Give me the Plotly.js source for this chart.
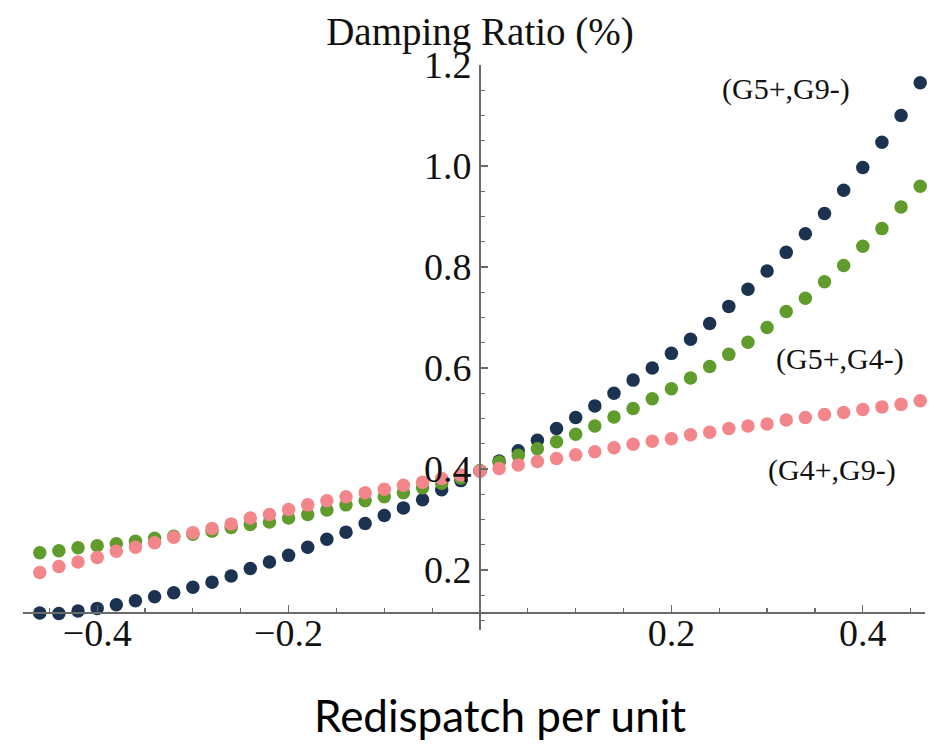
<!DOCTYPE html>
<html>
<head>
<meta charset="utf-8">
<script src="https://cdn.plot.ly/plotly-3.0.1.min.js"></script>
<style>html,body{margin:0;padding:0;background:#fff;}#chart{width:941px;height:750px;}</style>
</head>
<body>
<div id="chart"></div>
<script>
// Redispatch (per unit)
const redispatch = [-0.46,-0.44,-0.42,-0.40,-0.38,-0.36,-0.34,-0.32,-0.30,-0.28,-0.26,-0.24,-0.22,-0.20,-0.18,-0.16,-0.14,-0.12,-0.10,-0.08,-0.06,-0.04,-0.02,0.00,0.02,0.04,0.06,0.08,0.10,0.12,0.14,0.16,0.18,0.20,0.22,0.24,0.26,0.28,0.30,0.32,0.34,0.36,0.38,0.40,0.42,0.44,0.46];

// Damping ratio (%) for each redispatch pair
const g5g9 = [0.115,0.114,0.119,0.124,0.131,0.139,0.147,0.155,0.166,0.176,0.188,0.203,0.216,0.229,0.245,0.261,0.275,0.292,0.308,0.323,0.339,0.359,0.377,0.396,0.416,0.436,0.457,0.480,0.502,0.525,0.550,0.576,0.600,0.629,0.657,0.688,0.722,0.756,0.792,0.829,0.866,0.906,0.952,0.997,1.047,1.100,1.165];
const g5g4 = [0.234,0.238,0.244,0.248,0.252,0.257,0.263,0.267,0.271,0.277,0.284,0.290,0.295,0.303,0.310,0.319,0.329,0.337,0.345,0.353,0.363,0.372,0.382,0.397,0.414,0.427,0.440,0.454,0.469,0.485,0.503,0.520,0.539,0.559,0.580,0.603,0.627,0.651,0.680,0.712,0.738,0.771,0.803,0.841,0.876,0.919,0.960];
const g4g9 = [0.195,0.207,0.216,0.225,0.237,0.245,0.254,0.265,0.274,0.282,0.291,0.303,0.310,0.320,0.329,0.337,0.345,0.353,0.360,0.368,0.374,0.381,0.388,0.396,0.401,0.408,0.415,0.421,0.428,0.434,0.442,0.449,0.455,0.460,0.468,0.473,0.480,0.485,0.489,0.497,0.502,0.508,0.512,0.518,0.523,0.528,0.535];

const seriesNames = ['(G5+,G9-)', '(G5+,G4-)', '(G4+,G9-)'];
const xTickVals = [-0.4, -0.2, 0.2, 0.4];
const xTickText = ['\u22120.4', '\u22120.2', '0.2', '0.4'];
const yTickVals = [0.2, 0.4, 0.6, 0.8, 1.0, 1.2];
const yTickText = ['0.2', '0.4', '0.6', '0.8', '1.0', '1.2'];
const xTitle = 'Redispatch per unit';
const yTitle = 'Damping Ratio (%)';

// label anchor points (data coords)
const labelX = [0.32, 0.376, 0.368];
const labelY = [1.152, 0.617, 0.399];

const colors = ['#1b3350', '#5f9c2b', '#f2868a'];
const ys = [g5g9, g5g4, g4g9];

const xRange = [-0.4775, 0.465];
const yRange = [0.0812, 1.2];

const traces = ys.map((y, i) => ({
  x: redispatch, y: y, type: 'scatter', mode: 'markers', name: seriesNames[i],
  marker: {color: colors[i], size: 13.5, line: {width: 0}},
  cliponaxis: false, hoverinfo: 'x+y'
}));

const serif = 'Liberation Serif, Times New Roman, serif';
const axisCol = '#6a6a6a';

const annotations = seriesNames.map((t, i) => ({
  x: labelX[i], y: labelY[i], xref: 'x', yref: 'y', text: t, showarrow: false,
  font: {family: serif, size: 30, color: '#111'}, xanchor: 'center', yanchor: 'middle'
}));
annotations.push({
  x: 500/941, y: 1 - 715/750, xref: 'paper', yref: 'paper', text: xTitle, showarrow: false,
  font: {family: 'Lato, sans-serif', size: 44, color: '#000'}, xanchor: 'center', yanchor: 'middle'
});

const layout = {
  width: 941, height: 750,
  margin: {l: 0, r: 0, t: 0, b: 0},
  paper_bgcolor: '#fff', plot_bgcolor: '#fff',
  showlegend: false,
  title: {text: yTitle, font: {family: serif, size: 39, color: '#111'},
          x: 480/941, xref: 'container', xanchor: 'center', y: 1 - 31/750, yref: 'container', yanchor: 'middle'},
  xaxis: {
    domain: [23/941, 925/941],
    range: xRange, anchor: 'free',
    position: 1 - 613.3 / 750,
    showgrid: false, zeroline: false, showline: true, linecolor: axisCol, linewidth: 2,
    tickmode: 'array', tickvals: xTickVals, ticktext: xTickText,
    ticks: 'inside', ticklen: 7, tickwidth: 1.3, tickcolor: axisCol,
    ticklabelstandoff: -14,
    minor: {ticks: 'inside', ticklen: 4, tickwidth: 1.2, tickcolor: axisCol, tickmode: 'linear', tick0: 0, dtick: 0.05, showgrid: false},
    tickfont: {family: serif, size: 38, color: '#111'}
  },
  yaxis: {
    domain: [1 - 630/750, 1 - 65/750],
    range: yRange, anchor: 'free',
    position: 480/941,
    showgrid: false, zeroline: false, showline: true, linecolor: axisCol, linewidth: 2,
    tickmode: 'array', tickvals: yTickVals, ticktext: yTickText,
    ticks: 'inside', ticklen: 7, tickwidth: 1.3, tickcolor: axisCol,
    minor: {ticks: 'inside', ticklen: 4, tickwidth: 1.2, tickcolor: axisCol, tickmode: 'linear', tick0: 0, dtick: 0.05, showgrid: false},
    tickfont: {family: serif, size: 38, color: '#111'}
  },
  annotations: annotations
};

Plotly.newPlot('chart', traces, layout, {displayModeBar: false, staticPlot: true});
</script>
</body>
</html>
